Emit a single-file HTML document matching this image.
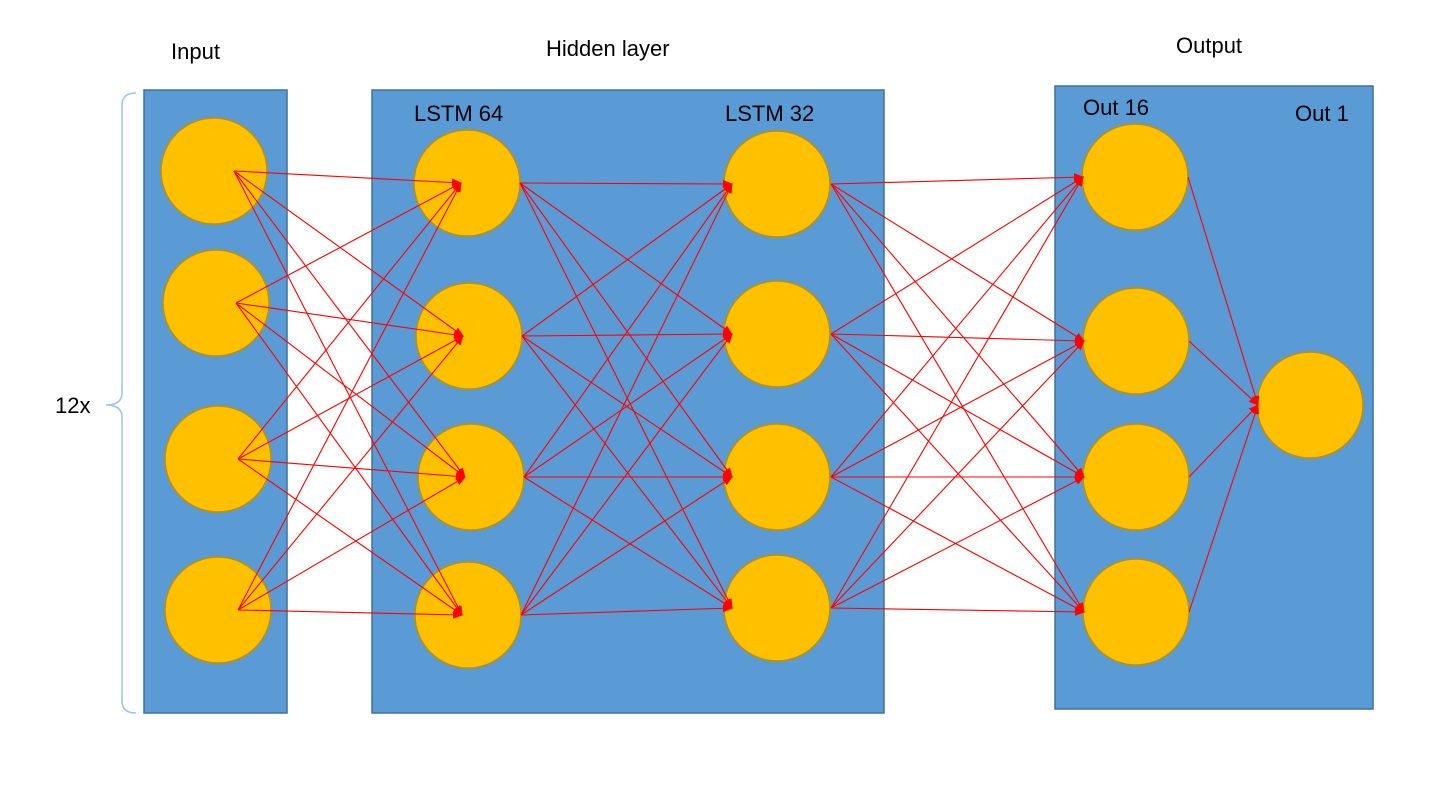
<!DOCTYPE html>
<html><head><meta charset="utf-8"><style>
html,body{margin:0;padding:0;background:#fff;}
svg{display:block;font-family:"Liberation Sans",sans-serif;}
</style></head><body>
<svg id="s" width="1431" height="797" viewBox="0 0 1431 797" xmlns="http://www.w3.org/2000/svg">
<defs><marker id="a" markerWidth="10" markerHeight="8" refX="9" refY="4" orient="auto" markerUnits="userSpaceOnUse"><path d="M0,0 L10,4 L0,8 Z" fill="#f00"/></marker></defs>
<rect x="144" y="90" width="143" height="623" fill="#5B9BD5" stroke="#41719C" stroke-width="1.5"/>
<rect x="372" y="90" width="512" height="623" fill="#5B9BD5" stroke="#41719C" stroke-width="1.5"/>
<rect x="1055" y="86" width="318" height="623" fill="#5B9BD5" stroke="#41719C" stroke-width="1.5"/>
<g id="c" fill="#FFC000" stroke="#BF9000" stroke-width="1.5"></g>
<g id="l" stroke="#f00" stroke-width="1.1" fill="none"></g>
<path d="M136,93 Q122,93 122,105 L122,393 Q122,405 106,405 Q122,405 122,417 L122,701 Q122,713 136,713" fill="none" stroke="#9DC3E6" stroke-width="1.5"/>
<g font-size="22" fill="#000">
<text x="55" y="413">12x</text>
<text x="171" y="59">Input</text>
<text x="546" y="56">Hidden layer</text>
<text x="1176" y="53">Output</text>
<text x="414" y="121">LSTM 64</text>
<text x="725" y="121">LSTM 32</text>
<text x="1083" y="115">Out 16</text>
<text x="1295" y="121">Out 1</text>
</g>
</svg>
<script>
var NS="http://www.w3.org/2000/svg";
var L1=[[214,171],[216,303],[218,459],[218,610]];
var L2=[[467,183],[469,336],[471,477],[468,615]];
var L3=[[777,184],[777,334],[777,477],[777,608]];
var L4=[[1135,177],[1136,341],[1136,477],[1136,612]];
var O=[1310,405];
var c=document.getElementById('c'),l=document.getElementById('l');
[L1,L2,L3,L4,[O]].forEach(function(L){L.forEach(function(p){var e=document.createElementNS(NS,'circle');e.setAttribute('cx',p[0]);e.setAttribute('cy',p[1]);e.setAttribute('r',53);c.appendChild(e);});});
function line(a,b){var e=document.createElementNS(NS,'line');e.setAttribute('x1',a[0]);e.setAttribute('y1',a[1]);e.setAttribute('x2',b[0]);e.setAttribute('y2',b[1]);e.setAttribute('marker-end','url(#a)');l.appendChild(e);}
L1.forEach(function(s){L2.forEach(function(t){line([s[0]+20,s[1]],[t[0]-6,t[1]]);});});
L2.forEach(function(s){L3.forEach(function(t){line([s[0]+53,s[1]],[t[0]-45,t[1]]);});});
L3.forEach(function(s){L4.forEach(function(t){line([s[0]+54,s[1]],[t[0]-52,t[1]]);});});
L4.forEach(function(s){line([s[0]+53,s[1]],[O[0]-52,O[1]]);});
</script>
</body></html>
